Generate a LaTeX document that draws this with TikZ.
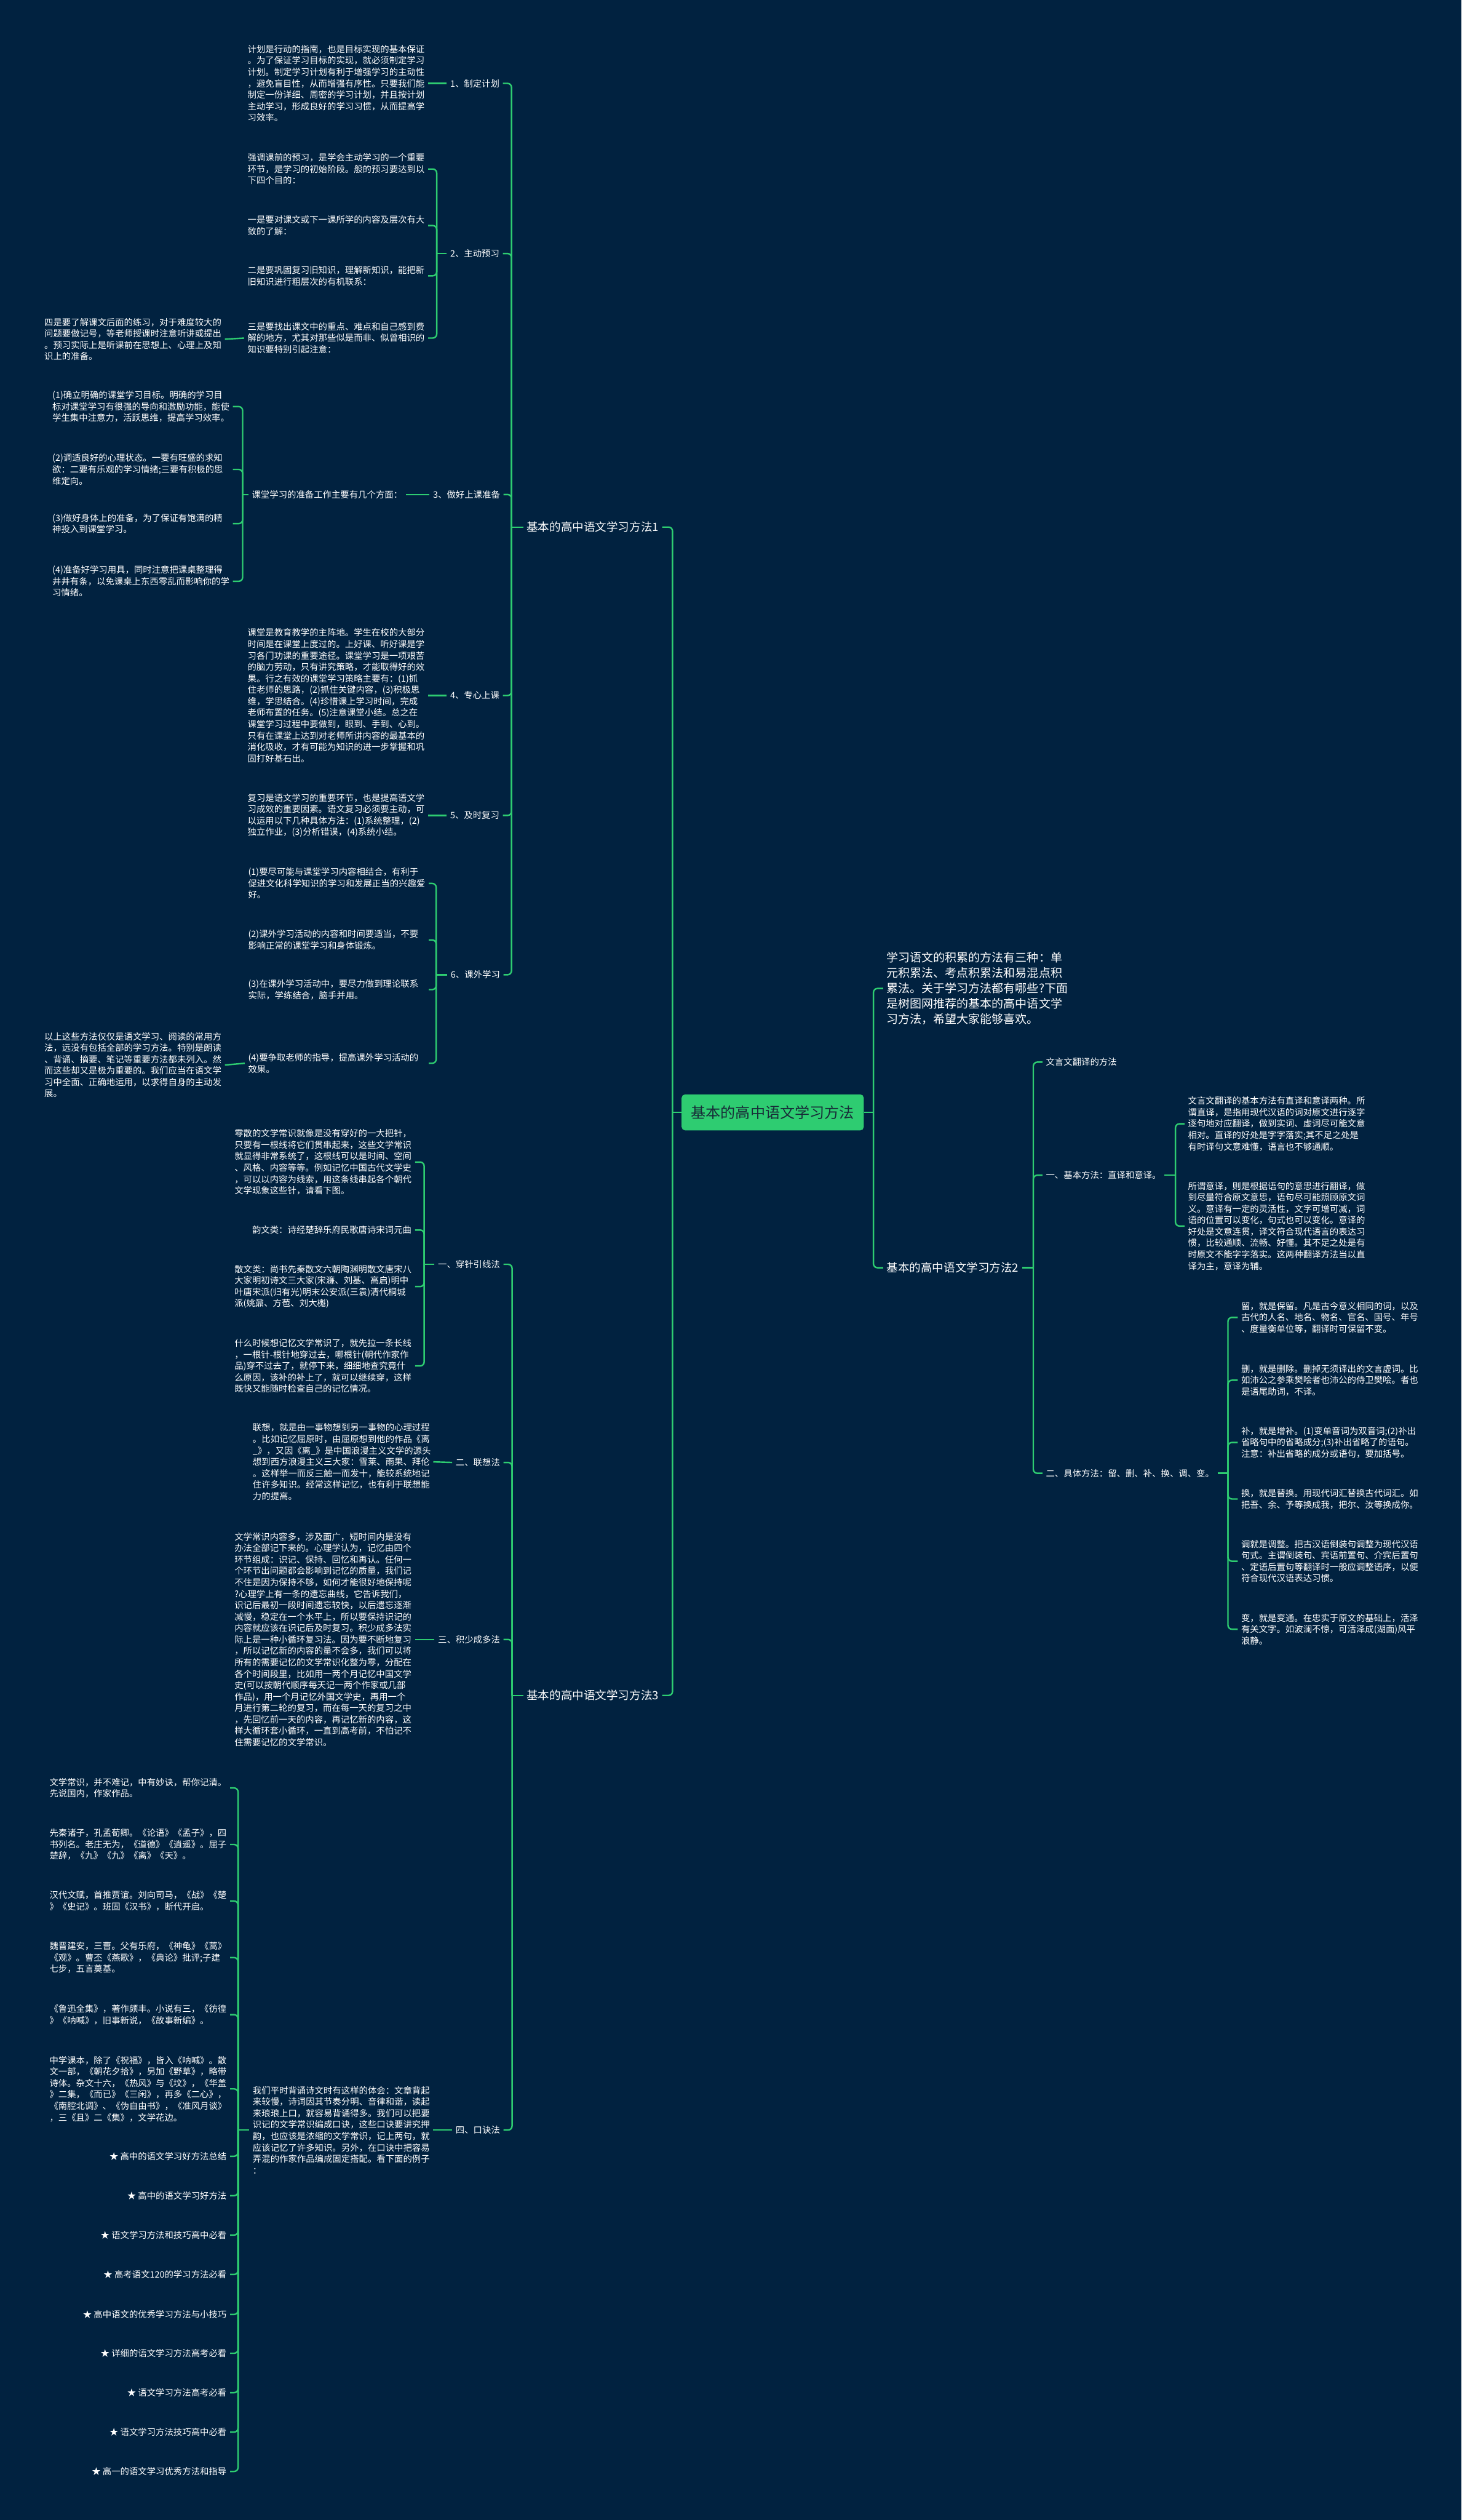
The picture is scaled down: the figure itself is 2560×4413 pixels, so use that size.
\documentclass[tikz,border=0pt]{standalone}
\usepackage{fontspec}
\setmainfont{Noto Sans CJK SC}
\definecolor{bgc}{RGB}{1,34,64}
\definecolor{lineG}{RGB}{46,204,113}
\definecolor{rootT}{RGB}{24,44,56}
\tikzset{
 conn/.style={draw=lineG, line width=2.6pt, rounded corners=7pt},
 txt/.style={text=white, font=\fontsize{15.5}{20}\selectfont, align=left, inner xsep=6pt, inner ysep=2pt},
 blk/.style={txt, text width=310pt},
 big/.style={text=white, font=\fontsize{20}{26}\selectfont, inner xsep=6pt, inner ysep=2pt},
 introtxt/.style={text=white, font=\fontsize{20.5}{27}\selectfont, align=left, inner xsep=6pt, inner ysep=2pt},
 rootnode/.style={fill=lineG, rounded corners=6pt, text=rootT, font=\fontsize{26}{30}\selectfont, minimum width=319pt, minimum height=63pt, inner sep=0pt}
}
\begin{document}
\begin{tikzpicture}[x=1pt,y=-1pt]
\fill[bgc] (0,0) rectangle (2560,4413);
\useasboundingbox (0,0) rectangle (2560,4413);

% root
\node[rootnode] (root) at (1353.5,1948) {基本的高中语文学习方法};

% ===== Branch 1 =====
\node[big, anchor=east] (B1) at (1160,923) {基本的高中语文学习方法1};
\node[txt, anchor=east] (n1) at (881,146) {1、制定计划};
\node[blk, anchor=east] (n1a) at (750,146) {计划是行动的指南，也是目标实现的基本保证\\。为了保证学习目标的实现，就必须制定学习\\计划。制定学习计划有利于增强学习的主动性\\，避免盲目性，从而增强有序性。只要我们能\\制定一份详细、周密的学习计划，并且按计划\\主动学习，形成良好的学习习惯，从而提高学\\习效率。};

\node[txt, anchor=east] (n2) at (881,444) {2、主动预习};
\node[blk, anchor=east] (n2a) at (750,296) {强调课前的预习，是学会主动学习的一个重要\\环节，是学习的初始阶段。般的预习要达到以\\下四个目的：};
\node[blk, anchor=east] (n2b) at (750,395) {一是要对课文或下一课所学的内容及层次有大\\致的了解：};
\node[blk, anchor=east] (n2c) at (750,483) {二是要巩固复习旧知识，理解新知识，能把新\\旧知识进行粗层次的有机联系：};
\node[blk, anchor=east] (n2d) at (750,592) {三是要找出课文中的重点、难点和自己感到费\\解的地方，尤其对那些似是而非、似曾相识的\\知识要特别引起注意：};
\node[blk, anchor=east] (n2d1) at (394,594) {四是要了解课文后面的练习，对于难度较大的\\问题要做记号，等老师授课时注意听讲或提出\\。预习实际上是听课前在思想上、心理上及知\\识上的准备。};

\node[txt, anchor=east] (n3) at (882,866) {3、做好上课准备};
\node[txt, anchor=east] (n3a) at (711,866) {课堂学习的准备工作主要有几个方面：};
\node[blk, anchor=east] (n3a1) at (408,712) {(1)确立明确的课堂学习目标。明确的学习目\\标对课堂学习有很强的导向和激励功能，能使\\学生集中注意力，活跃思维，提高学习效率。};
\node[blk, anchor=east] (n3a2) at (408,822) {(2)调适良好的心理状态。一要有旺盛的求知\\欲：二要有乐观的学习情绪;三要有积极的思\\维定向。};
\node[blk, anchor=east] (n3a3) at (408,917) {(3)做好身体上的准备，为了保证有饱满的精\\神投入到课堂学习。};
\node[blk, anchor=east] (n3a4) at (408,1018) {(4)准备好学习用具，同时注意把课桌整理得\\井井有条，以免课桌上东西零乱而影响你的学\\习情绪。};

\node[txt, anchor=east] (n4) at (881,1218) {4、专心上课};
\node[blk, anchor=east] (n4a) at (750,1218) {课堂是教育教学的主阵地。学生在校的大部分\\时间是在课堂上度过的。上好课、听好课是学\\习各门功课的重要途径。课堂学习是一项艰苦\\的脑力劳动，只有讲究策略，才能取得好的效\\果。行之有效的课堂学习策略主要有：(1)抓\\住老师的思路，(2)抓住关键内容，(3)积极思\\维，学思结合。(4)珍惜课上学习时间，完成\\老师布置的任务。(5)注意课堂小结。总之在\\课堂学习过程中要做到，眼到、手到、心到。\\只有在课堂上达到对老师所讲内容的最基本的\\消化吸收，才有可能为知识的进一步掌握和巩\\固打好基石出。};

\node[txt, anchor=east] (n5) at (881,1428) {5、及时复习};
\node[blk, anchor=east] (n5a) at (750,1428) {复习是语文学习的重要环节，也是提高语文学\\习成效的重要因素。语文复习必须要主动，可\\以运用以下几种具体方法：(1)系统整理，(2)\\独立作业，(3)分析错误，(4)系统小结。};

\node[txt, anchor=east] (n6) at (882,1707) {6、课外学习};
\node[blk, anchor=east] (n6a) at (751,1547) {(1)要尽可能与课堂学习内容相结合，有利于\\促进文化科学知识的学习和发展正当的兴趣爱\\好。};
\node[blk, anchor=east] (n6b) at (751,1646) {(2)课外学习活动的内容和时间要适当，不要\\影响正常的课堂学习和身体锻炼。};
\node[blk, anchor=east] (n6c) at (751,1733) {(3)在课外学习活动中，要尽力做到理论联系\\实际，学练结合，脑手并用。};
\node[blk, anchor=east] (n6d) at (751,1862) {(4)要争取老师的指导，提高课外学习活动的\\效果。};
\node[blk, anchor=east] (n6d1) at (394,1865) {以上这些方法仅仅是语文学习、阅读的常用方\\法，远没有包括全部的学习方法。特别是朗读\\、背诵、摘要、笔记等重要方法都未列入。然\\而这些却又是极为重要的。我们应当在语文学\\习中全面、正确地运用，以求得自身的主动发\\展。};

% ===== Branch 3 =====
\node[big, anchor=east] (B3) at (1160,2969) {基本的高中语文学习方法3};
\node[txt, anchor=east] (n7) at (882,2214) {一、穿针引线法};
\node[blk, anchor=east] (n7a) at (727,2035) {零散的文学常识就像是没有穿好的一大把针，\\只要有一根线将它们贯串起来，这些文学常识\\就显得非常系统了，这根线可以是时间、空间\\、风格、内容等等。例如记忆中国古代文学史\\，可以以内容为线索，用这条线串起各个朝代\\文学现象这些针，请看下图。};
\node[txt, anchor=east] (n7b) at (727,2154) {韵文类：诗经楚辞乐府民歌唐诗宋词元曲};
\node[blk, anchor=east] (n7c) at (727,2253) {散文类：尚书先秦散文六朝陶渊明散文唐宋八\\大家明初诗文三大家(宋濂、刘基、高启)明中\\叶唐宋派(归有光)明末公安派(三袁)清代桐城\\派(姚鼐、方苞、刘大櫆)};
\node[blk, anchor=east] (n7d) at (727,2392) {什么时候想记忆文学常识了，就先拉一条长线\\，一根针-根针地穿过去，哪根针(朝代作家作\\品)穿不过去了，就停下来，细细地查究竟什\\么原因，该补的补上了，就可以继续穿，这样\\既快又能随时检查自己的记忆情况。};

\node[txt, anchor=east] (n8) at (882,2561) {二、联想法};
\node[blk, anchor=east] (n8a) at (759,2560) {联想，就是由一事物想到另一事物的心理过程\\。比如记忆屈原时，由屈原想到他的作品《离\\\_》，又因《离\_》是中国浪漫主义文学的源头\\想到西方浪漫主义三大家：雪莱、雨果、拜伦\\。这样举一而反三触一而发十，能较系统地记\\住许多知识。经常这样记忆，也有利于联想能\\力的提高。};

\node[txt, anchor=east] (n9) at (882,2871) {三、积少成多法};
\node[blk, anchor=east] (n9a) at (727,2871) {文学常识内容多，涉及面广，短时间内是没有\\办法全部记下来的。心理学认为，记忆由四个\\环节组成：识记、保持、回忆和再认。任何一\\个环节出问题都会影响到记忆的质量，我们记\\不住是因为保持不够，如何才能很好地保持呢\\?心理学上有一条的遗忘曲线，它告诉我们，\\识记后最初一段时间遗忘较快，以后遗忘逐渐\\减慢，稳定在一个水平上，所以要保持识记的\\内容就应该在识记后及时复习。积少成多法实\\际上是一种小循环复习法。因为要不断地复习\\，所以记忆新的内容的量不会多，我们可以将\\所有的需要记忆的文学常识化整为零，分配在\\各个时间段里，比如用一两个月记忆中国文学\\史(可以按朝代顺序每天记一两个作家或几部\\作品)，用一个月记忆外国文学史，再用一个\\月进行第二轮的复习，而在每一天的复习之中\\，先回忆前一天的内容，再记忆新的内容，这\\样大循环套小循环，一直到高考前，不怕记不\\住需要记忆的文学常识。};

\node[txt, anchor=east] (n10) at (882,3730) {四、口诀法};
\node[blk, anchor=east] (n10a) at (759,3730) {我们平时背诵诗文时有这样的体会：文章背起\\来较慢，诗词因其节奏分明、音律和谐，读起\\来琅琅上口，就容易背诵得多。我们可以把要\\识记的文学常识编成口诀，这些口诀要讲究押\\韵，也应该是浓缩的文学常识，记上两句，就\\应该记忆了许多知识。另外，在口诀中把容易\\弄混的作家作品编成固定搭配。看下面的例子\\：};
\node[blk, anchor=east] (k1) at (403,3131) {文学常识，并不难记，中有妙诀，帮你记清。\\先说国内，作家作品。};
\node[blk, anchor=east] (k2) at (403,3230) {先秦诸子，孔孟荀卿。《论语》《孟子》，四\\书列名。老庄无为，《道德》《逍遥》。屈子\\楚辞，《九》《九》《离》《天》。};
\node[blk, anchor=east] (k3) at (403,3329) {汉代文赋，首推贾谊。刘向司马，《战》《楚\\》《史记》。班固《汉书》，断代开启。};
\node[blk, anchor=east] (k4) at (403,3428) {魏晋建安，三曹。父有乐府，《神龟》《蒿》\\《观》。曹丕《燕歌》，《典论》批评;子建\\七步，五言奠基。};
\node[blk, anchor=east] (k5) at (403,3528) {《鲁迅全集》，著作颇丰。小说有三，《彷徨\\》《呐喊》，旧事新说，《故事新编》。};
\node[blk, anchor=east] (k6) at (403,3658) {中学课本，除了《祝福》，皆入《呐喊》。散\\文一部，《朝花夕拾》，另加《野草》，略带\\诗体。杂文十六，《热风》与《坟》，《华盖\\》二集，《而已》《三闲》，再多《二心》，\\《南腔北调》、《伪自由书》，《准风月谈》\\，三《且》二《集》，文学花边。};
\node[txt, anchor=east] (s1) at (403,3776) {★ 高中的语文学习好方法总结};
\node[txt, anchor=east] (s2) at (403,3845) {★ 高中的语文学习好方法};
\node[txt, anchor=east] (s3) at (403,3914) {★ 语文学习方法和技巧高中必看};
\node[txt, anchor=east] (s4) at (403,3983) {★ 高考语文120的学习方法必看};
\node[txt, anchor=east] (s5) at (403,4053) {★ 高中语文的优秀学习方法与小技巧};
\node[txt, anchor=east] (s6) at (403,4121) {★ 详细的语文学习方法高考必看};
\node[txt, anchor=east] (s7) at (403,4190) {★ 语文学习方法高考必看};
\node[txt, anchor=east] (s8) at (403,4259) {★ 语文学习方法技巧高中必看};
\node[txt, anchor=east] (s9) at (403,4328) {★ 高一的语文学习优秀方法和指导};

% ===== Right side =====
\node[introtxt, anchor=west] (intro) at (1547,1731) {学习语文的积累的方法有三种：单\\元积累法、考点积累法和易混点积\\累法。关于学习方法都有哪些?下面\\是树图网推荐的基本的高中语文学\\习方法，希望大家能够喜欢。};
\node[big, anchor=west] (B2) at (1547,2220) {基本的高中语文学习方法2};
\node[txt, anchor=west] (r1a) at (1826,1860) {文言文翻译的方法};
\node[txt, anchor=west] (r1b) at (1826,2058) {一、基本方法：直译和意译。};
\node[txt, anchor=west] (r1b1) at (2075,1968) {文言文翻译的基本方法有直译和意译两种。所\\谓直译，是指用现代汉语的词对原文进行逐字\\逐句地对应翻译，做到实词、虚词尽可能文意\\相对。直译的好处是字字落实;其不足之处是\\有时译句文意难懂，语言也不够通顺。};
\node[txt, anchor=west] (r1b2) at (2075,2147) {所谓意译，则是根据语句的意思进行翻译，做\\到尽量符合原文意思，语句尽可能照顾原文词\\义。意译有一定的灵活性，文字可增可减，词\\语的位置可以变化，句式也可以变化。意译的\\好处是文意连贯，译文符合现代语言的表达习\\惯，比较通顺、流畅、好懂。其不足之处是有\\时原文不能字字落实。这两种翻译方法当以直\\译为主，意译为辅。};
\node[txt, anchor=west] (r1c) at (1826,2580) {二、具体方法：留、删、补、换、调、变。};
\node[txt, anchor=west] (c1) at (2168,2307) {留，就是保留。凡是古今意义相同的词，以及\\古代的人名、地名、物名、官名、国号、年号\\、度量衡单位等，翻译时可保留不变。};
\node[txt, anchor=west] (c2) at (2168,2417) {删，就是删除。删掉无须译出的文言虚词。比\\如沛公之参乘樊哙者也沛公的侍卫樊哙。者也\\是语尾助词，不译。};
\node[txt, anchor=west] (c3) at (2168,2526) {补，就是增补。(1)变单音词为双音词;(2)补出\\省略句中的省略成分;(3)补出省略了的语句。\\注意：补出省略的成分或语句，要加括号。};
\node[txt, anchor=west] (c4) at (2168,2625) {换，就是替换。用现代词汇替换古代词汇。如\\把吾、余、予等换成我，把尔、汝等换成你。};
\node[txt, anchor=west] (c5) at (2168,2734) {调就是调整。把古汉语倒装句调整为现代汉语\\句式。主谓倒装句、宾语前置句、介宾后置句\\、定语后置句等翻译时一般应调整语序，以便\\符合现代汉语表达习惯。};
\node[txt, anchor=west] (c6) at (2168,2853) {变，就是变通。在忠实于原文的基础上，活泽\\有关文字。如波澜不惊，可活泽成(湖面)风平\\浪静。};

% ===== bracket coordinates =====
\coordinate (L0) at (1178,1948);
\coordinate (L1) at (896,923);
\coordinate (L2) at (765,444);
\coordinate (L3) at (425,866);
\coordinate (L6) at (764,1707);
\coordinate (L9) at (897,2969);
\coordinate (L7) at (743,2214);
\coordinate (L10) at (417,3730);
\coordinate (R0) at (1530,1948);
\coordinate (R2) at (1810,2220);
\coordinate (R2b) at (2059,2058);
\coordinate (R2c) at (2151,2580);

% ===== connectors =====
\draw[conn] (root.west) -- (L0);
\draw[conn] (L0) |- (B1.east);
\draw[conn] (L0) |- (B3.east);

\draw[conn] (B1.west) -- (L1);
\foreach \c in {n1,n2,n3,n4,n5,n6} \draw[conn] (L1) |- (\c.east);
\draw[conn] (n1.west) -- (n1a.east);
\draw[conn] (n2.west) -- (L2);
\foreach \c in {n2a,n2b,n2c,n2d} \draw[conn] (L2) |- (\c.east);
\draw[conn] (n2d.west) -- (n2d1.east);
\draw[conn] (n3.west) -- (n3a.east);
\draw[conn] (n3a.west) -- (L3);
\foreach \c in {n3a1,n3a2,n3a3,n3a4} \draw[conn] (L3) |- (\c.east);
\draw[conn] (n4.west) -- (n4a.east);
\draw[conn] (n5.west) -- (n5a.east);
\draw[conn] (n6.west) -- (L6);
\foreach \c in {n6a,n6b,n6c,n6d} \draw[conn] (L6) |- (\c.east);
\draw[conn] (n6d.west) -- (n6d1.east);

\draw[conn] (B3.west) -- (L9);
\foreach \c in {n7,n8,n9,n10} \draw[conn] (L9) |- (\c.east);
\draw[conn] (n7.west) -- (L7);
\foreach \c in {n7a,n7b,n7c,n7d} \draw[conn] (L7) |- (\c.east);
\draw[conn] (n8.west) -- (n8a.east);
\draw[conn] (n9.west) -- (n9a.east);
\draw[conn] (n10.west) -- (n10a.east);
\draw[conn] (n10a.west) -- (L10);
\foreach \c in {k1,k2,k3,k4,k5,k6,s1,s2,s3,s4,s5,s6,s7,s8,s9} \draw[conn] (L10) |- (\c.east);

\draw[conn] (root.east) -- (R0);
\draw[conn] (R0) |- (intro.west);
\draw[conn] (R0) |- (B2.west);
\draw[conn] (B2.east) -- (R2);
\foreach \c in {r1a,r1b,r1c} \draw[conn] (R2) |- (\c.west);
\draw[conn] (r1b.east) -- (R2b);
\foreach \c in {r1b1,r1b2} \draw[conn] (R2b) |- (\c.west);
\draw[conn] (r1c.east) -- (R2c);
\foreach \c in {c1,c2,c3,c4,c5,c6} \draw[conn] (R2c) |- (\c.west);
\end{tikzpicture}
\end{document}
